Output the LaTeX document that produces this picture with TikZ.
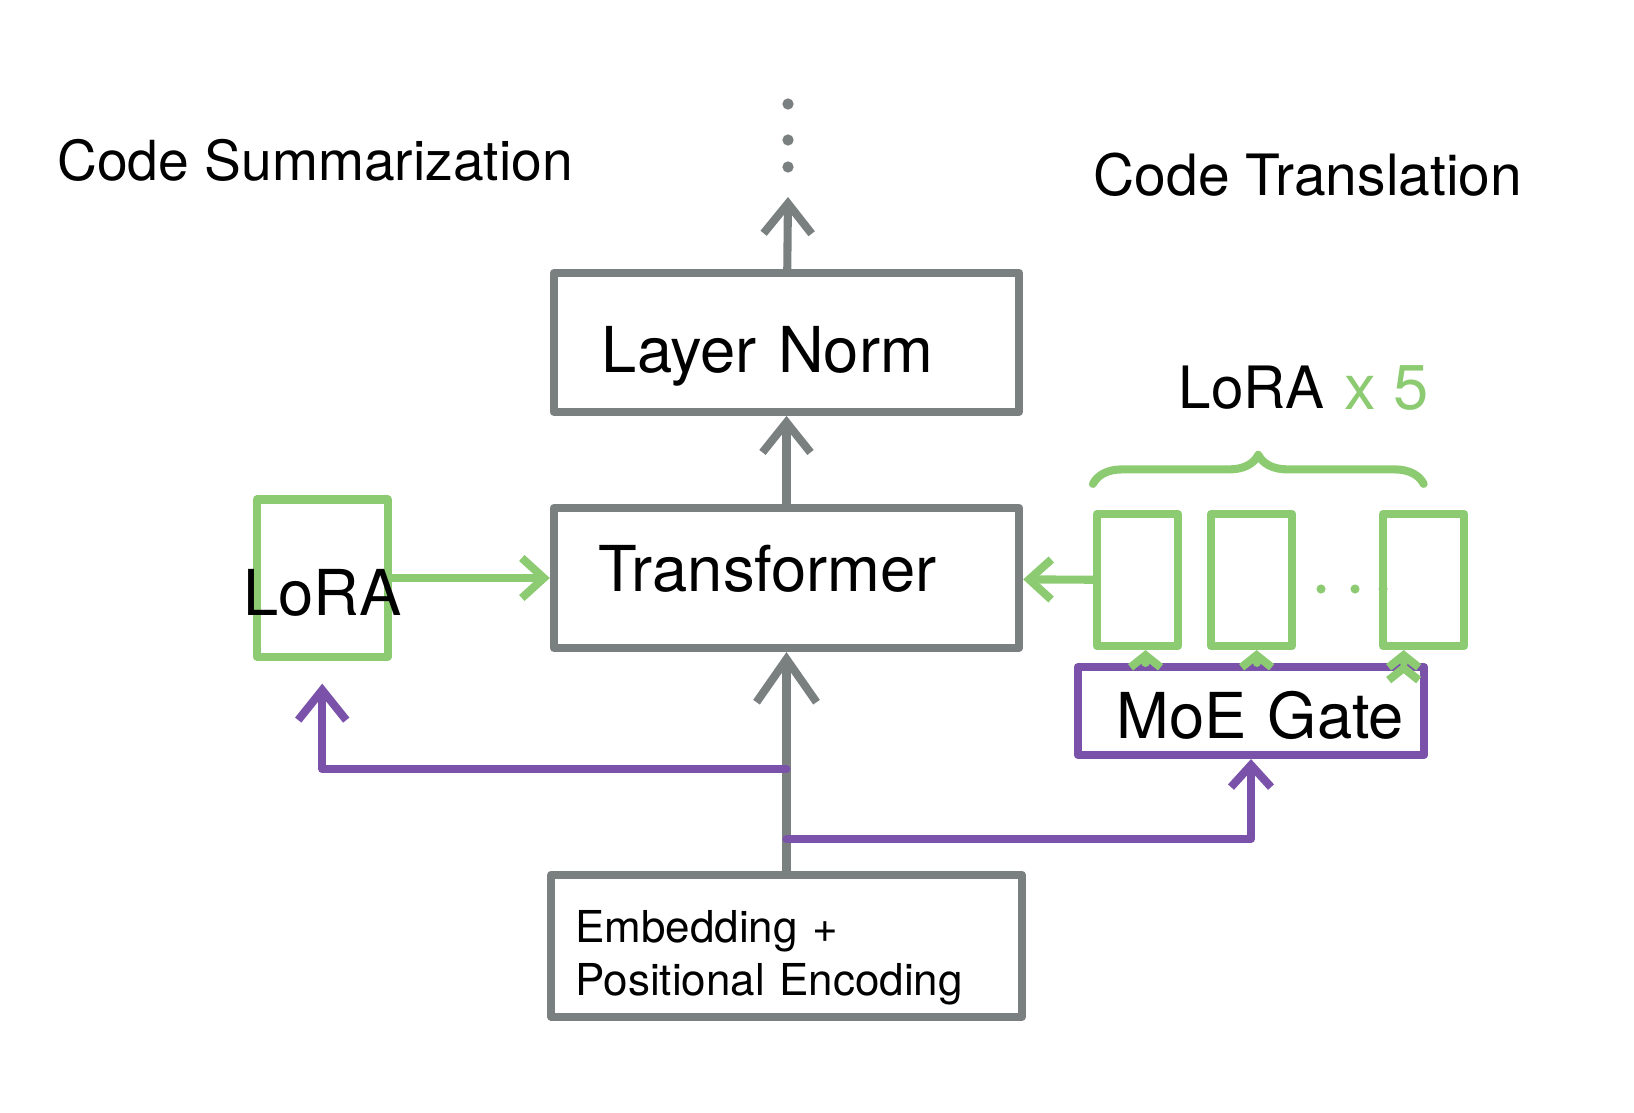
\documentclass[tikz,border=0pt]{standalone}
\usepackage{fontspec}
\setmainfont{TeX Gyre Heros}
\usetikzlibrary{arrows.meta,positioning,decorations.pathreplacing}
\definecolor{pencil}{RGB}{122,127,128}
\definecolor{leaf}{RGB}{141,203,115}
\definecolor{grape}{RGB}{122,82,170}

\begin{document}
\begin{tikzpicture}[x=0.01cm,y=-0.01cm,on grid,line cap=round,line join=round,
        box/.style={draw=pencil,line width=2.3pt,minimum width=4.65cm,minimum height=1.39cm,align=left,font=\fontsize{18}{21}\selectfont},
        lorabox/.style={draw=leaf,line width=2.3pt,minimum width=0.81cm,minimum height=1.32cm},
        gatebox/.style={draw=grape,line width=2.3pt,minimum width=3.46cm,minimum height=0.88cm,align=right,font=\fontsize{18}{21}\selectfont},
        title/.style={font=\fontsize{16}{19}\selectfont},
        graypen/.style={draw=pencil,line width=2.3pt},
        greenpen/.style={draw=leaf,line width=2.3pt},
        purplepen/.style={draw=grape,line width=2.3pt},
        bigtip/.style={-{Straight Barb[length=0.43cm,width=0.6cm]}},
        midtip/.style={-{Straight Barb[length=0.3cm,width=0.48cm]}},
        smalltip/.style={-{Straight Barb[length=0.22cm,width=0.4cm]}},
        tinytip/.style={-{Straight Barb[length=0.12cm,width=0.3cm]}}]
    \useasboundingbox (0,0) rectangle (1634,1112);

    % main stack
    \node[box,text width=3.75cm,inner xsep=0.45cm,minimum height=1.40cm,text depth=5.6pt] (tf) at (786.5,578) {Transformer};
    \node[box,text width=3.69cm,inner xsep=0.48cm,text height=20.8pt] (ln) [above=2.355cm of tf] {Layer Norm};
    \node[box,text width=4.22cm,inner xsep=0.24cm,minimum width=4.70cm,minimum height=1.41cm,
        font=\fontsize{12.5}{15}\selectfont] (emb) [below=3.675cm of tf] {\rule{0pt}{16pt}Embedding +\\Positional Encoding};
    \coordinate (top) at (788,197);

    % lora and gate
    \node[lorabox,minimum width=1.31cm,minimum height=1.57cm,
        label={[font=\fontsize{18}{21}\selectfont,yshift=-0.15cm]center:LoRA}] (loraL) [left=4.64cm of tf] {};
    \node[gatebox,text width=3.06cm,inner xsep=0.2cm,text height=16.1pt] (moe) at (1251,711) {MoE Gate};
    \node[lorabox] (loraA) at (1137.5,580) {};
    \node[lorabox] (loraB) [right=1.14cm of loraA] {};
    \node[lorabox] (loraC) [right=1.72cm of loraB] {};
    \node[title,font=\fontsize{16.6}{19}\selectfont] (loraR) [above=1.92cm of loraB] {LoRA};
    \node[text=leaf,font=\fontsize{18}{21}\selectfont] (times) [right=1.35cm of loraR] {x 5};

    % titles
    \node[title,font=\fontsize{15.7}{19}\selectfont] (sum) at (315,160) {Code Summarization};
    \node[title,font=\fontsize{16.2}{19}\selectfont] (tr) at (1308,175) {Code Translation};

    % dots
    \fill[pencil] (788,104) circle (1.6pt) (788,140) circle (1.6pt) (788,167) circle (1.6pt);
    \fill[leaf] (1321,589) circle (1.3pt) (1355,589) circle (1.3pt) (1383,589) circle (1.3pt);

    % brace
    \draw[greenpen,decorate,decoration={brace,amplitude=0.29cm}]
        ([yshift=0.26cm]loraA.north west) -- ([yshift=0.26cm]loraC.north);

    % connectors
    \path[graypen]
        (emb) edge[bigtip] (tf)
        (tf) edge[midtip] (ln)
        (ln) edge[midtip] (top);
    \coordinate (j1) at (tf.south |- 0,769);
    \coordinate (j2) at (tf.south |- 0,839);
    \draw[purplepen,midtip,shorten >=0.23cm] (j1) -| (loraL.south);
    \draw[purplepen,smalltip] (j2) -| (moe.south);
    \path[greenpen,smalltip]
        (loraL) edge (tf)
        (loraA) edge (tf);
    \path[greenpen,tinytip]
        ([xshift=0.08cm]loraA.south |- moe.north) edge ([xshift=0.08cm]loraA.south)
        ([xshift=0.05cm]loraB.south |- moe.north) edge ([xshift=0.05cm]loraB.south)
        ([xshift=-0.2cm]loraC.south |- moe.north) edge ([xshift=-0.2cm]loraC.south);
\end{tikzpicture}
\end{document}
